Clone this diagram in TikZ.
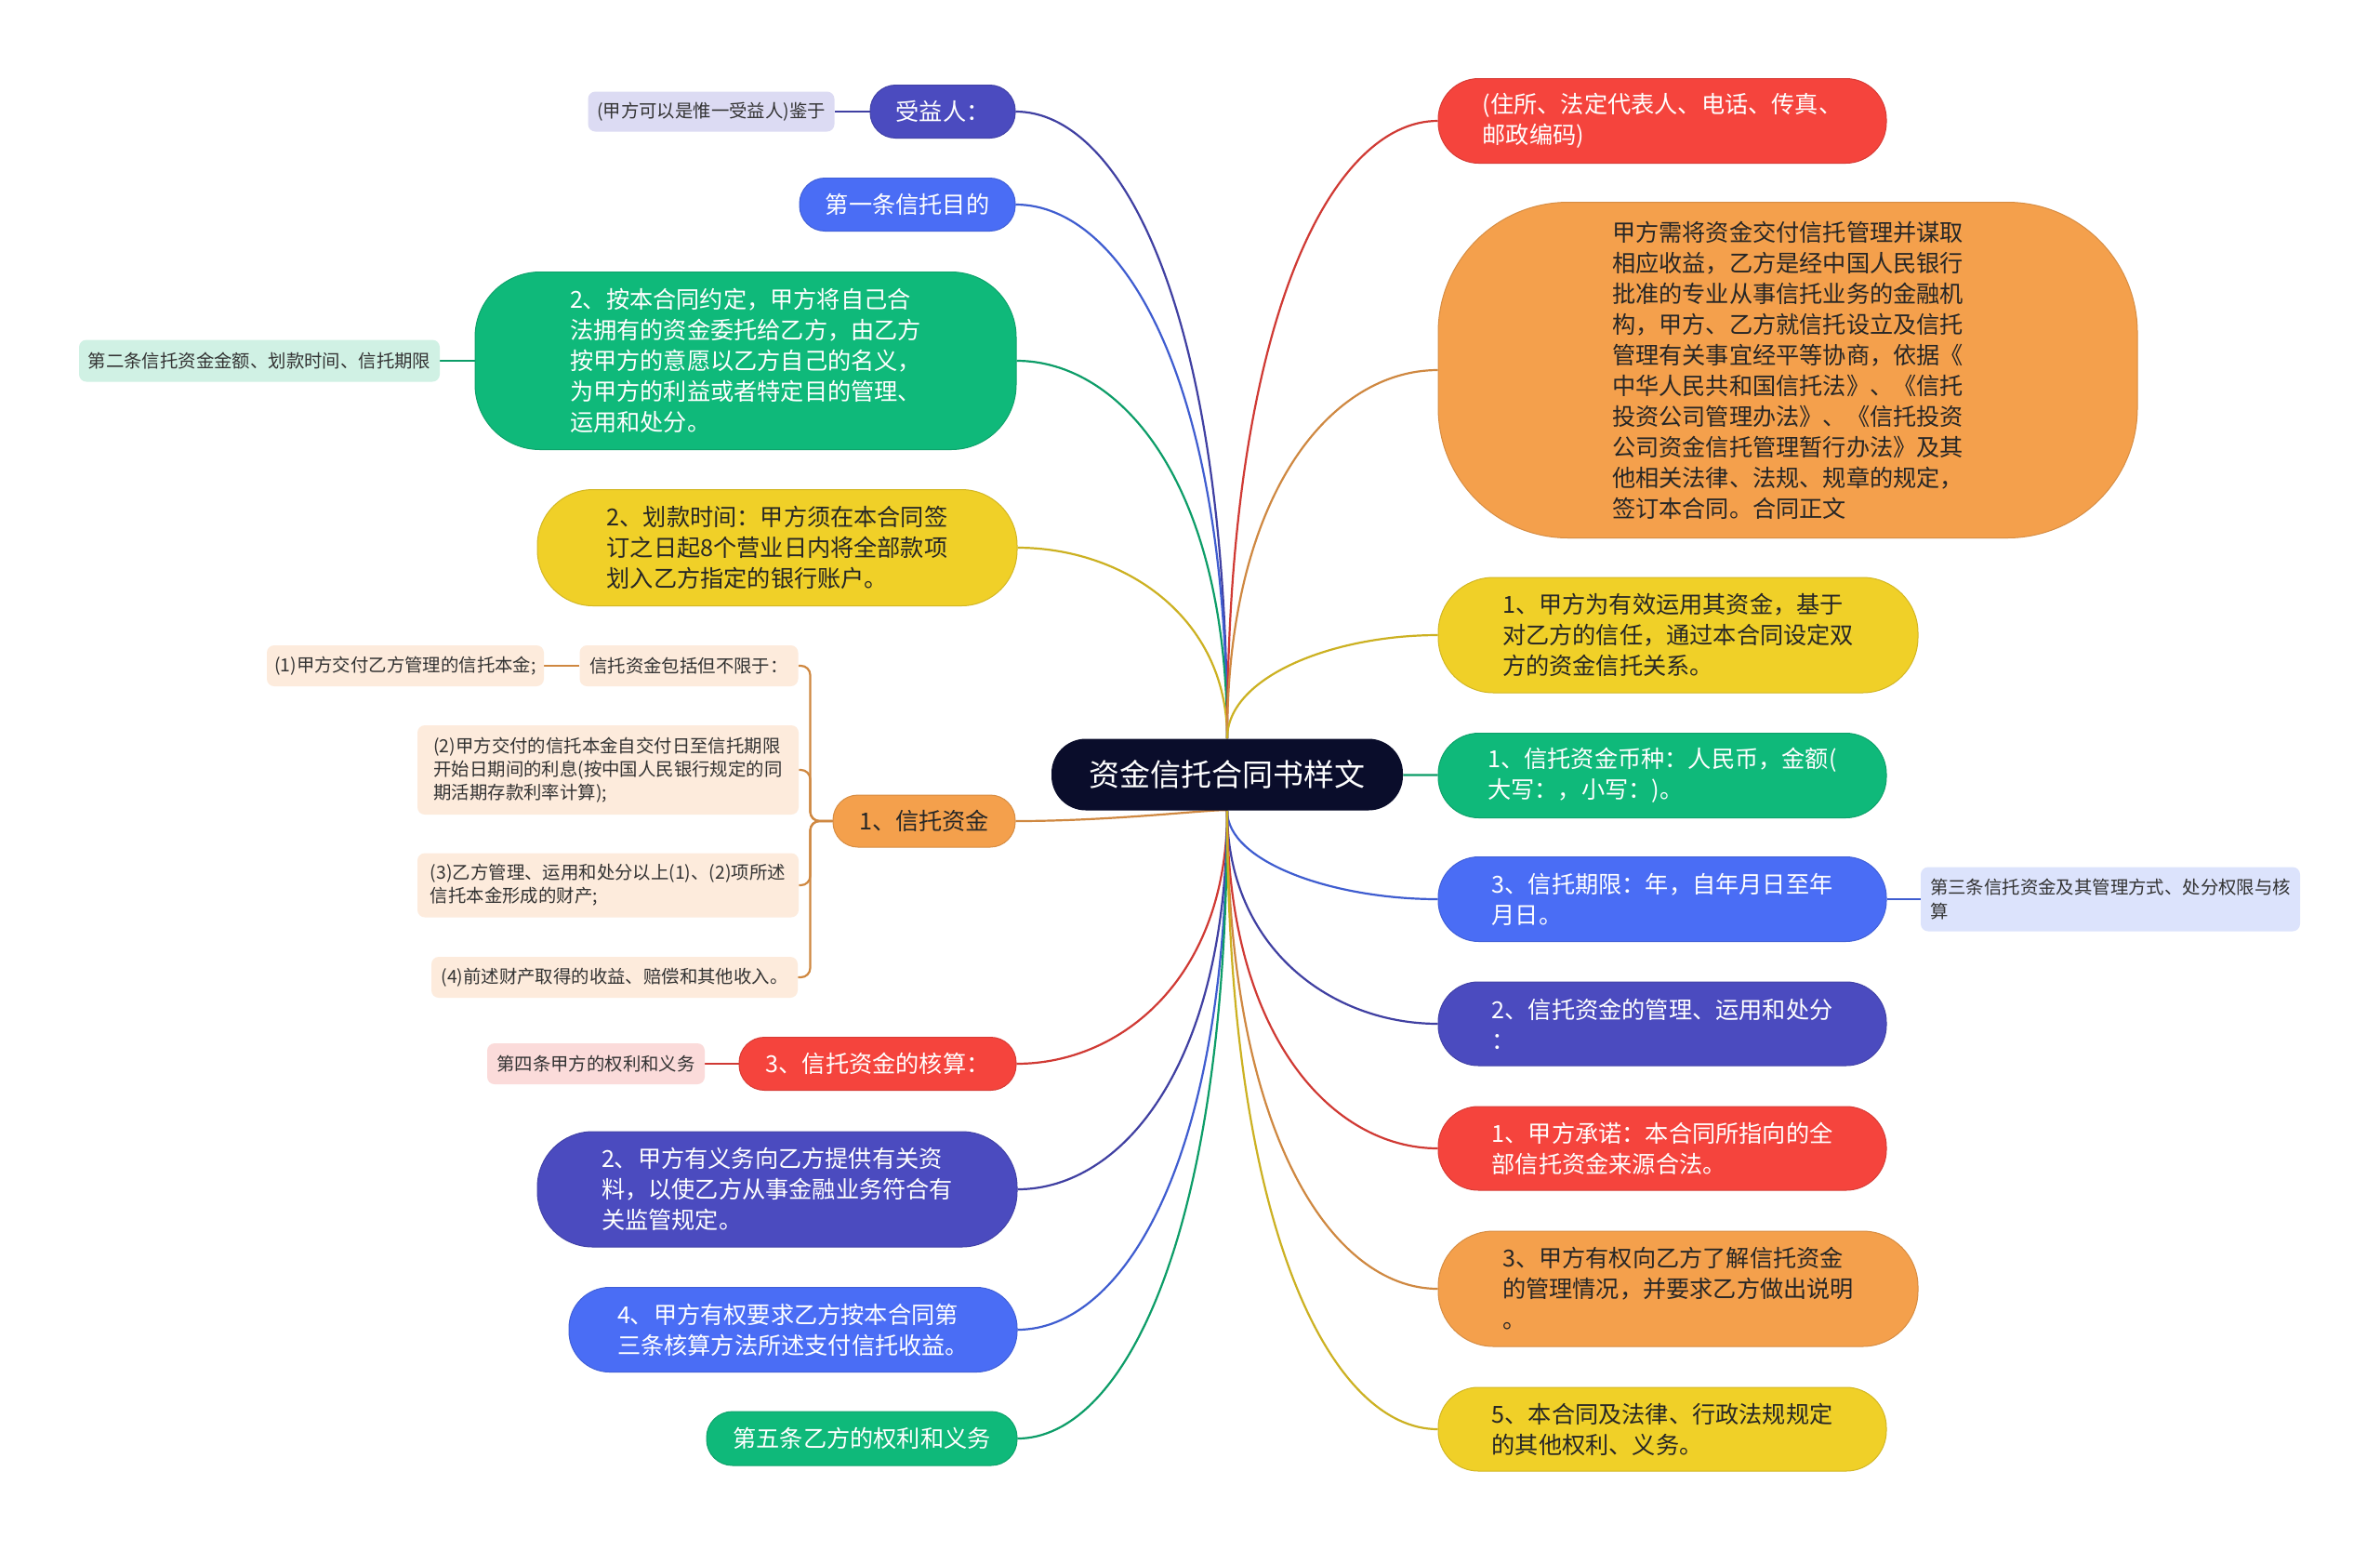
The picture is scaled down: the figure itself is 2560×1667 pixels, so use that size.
\documentclass[tikz,border=0pt]{standalone}
\usepackage{fontspec}
\setmainfont{Noto Sans CJK SC}
\usepackage{tikz}
\usetikzlibrary{calc,backgrounds}

\definecolor{cHub}{RGB}{10,13,43}
\definecolor{cRed}{RGB}{245,68,61}
\definecolor{cOr}{RGB}{244,160,76}
\definecolor{cYel}{RGB}{240,208,40}
\definecolor{cGrn}{RGB}{15,185,122}
\definecolor{cBlu}{RGB}{74,109,245}
\definecolor{cPur}{RGB}{75,75,191}
\definecolor{lPur}{RGB}{220,219,243}
\definecolor{lGrn}{RGB}{208,241,228}
\definecolor{lOr}{RGB}{253,235,220}
\definecolor{lRed}{RGB}{251,219,218}
\definecolor{lBlu}{RGB}{220,227,252}

\newcommand\hubf{\fontsize{16.5pt}{20pt}\selectfont}
\newcommand\bodyf{\fontsize{12.6pt}{16.5pt}\selectfont}
\newcommand\leaff{\fontsize{9.7pt}{12.6pt}\selectfont}

\begin{document}
\begin{tikzpicture}[x=0.5pt,y=-0.5pt,line cap=round,
  wh/.style 2 args={minimum width=#1*0.5pt,minimum height=#2*0.5pt},
  sz/.style 2 args={wh={#1}{#2},rounded corners=#2*0.24pt},
  hub/.style={fill=cHub,text=white,font=\hubf,inner sep=0pt},
  lvl/.style={fill=#1,draw=#1!88!black,line width=0.5pt,text=white,font=\bodyf,align=left,inner sep=0pt},
  lvd/.style={lvl=#1,text=black!85},
  leaf/.style={fill=#1,rounded corners=4pt,font=\leaff,align=left,inner sep=0pt,text=black!80},
  lk/.style={line width=1.1pt,draw=#1!85!black},
  br/.style={lk=#1,
    to path={.. controls ($(\tikztostart)!0.7!(\tikztostart |- \tikztotarget)$)
      and ($(\tikztotarget)!0.5!(\tikztostart |- \tikztotarget)$) .. (\tikztotarget)}}]
\useasboundingbox (0,0) rectangle (2560,1667);

% centre
\node[hub,sz={378}{77}] (hub) at (1320,833) {资金信托合同书样文};

% left side
\node[lvl=cPur,sz={156}{57}] (l1) at (1014,120) {受益人：};
\node[leaf=lPur,wh={265}{43}] (l1a) at (765,120) {(甲方可以是惟一受益人)鉴于};
\node[lvl=cBlu,sz={232}{57}] (l2) at (976,220) {第一条信托目的};
\node[lvl=cGrn,sz={582}{191},rounded corners=35pt] (l3) at (802,388)
  {2、按本合同约定，甲方将自己合\\法拥有的资金委托给乙方，由乙方\\按甲方的意愿以乙方自己的名义，\\为甲方的利益或者特定目的管理、\\运用和处分。};
\node[leaf=lGrn,wh={388}{45}] (l3a) at (279,388) {第二条信托资金金额、划款时间、信托期限};
\node[lvd=cYel,sz={516}{125}] (l4) at (836,589)
  {2、划款时间：甲方须在本合同签\\订之日起8个营业日内将全部款项\\划入乙方指定的银行账户。};
\node[lvd=cOr,sz={196}{56}] (l5) at (994,883) {1、信托资金};
\node[leaf=lOr,wh={235}{44}] (l5a) at (741,716) {信托资金包括但不限于：};
\node[leaf=lOr,wh={298}{44}] (l5a1) at (436,716) {(1)甲方交付乙方管理的信托本金;};
\node[leaf=lOr,wh={410}{96}] (l5b) at (654,828)
  {(2)甲方交付的信托本金自交付日至信托期限\\开始日期间的利息(按中国人民银行规定的同\\期活期存款利率计算);};
\node[leaf=lOr,wh={410}{69}] (l5c) at (654,952)
  {(3)乙方管理、运用和处分以上(1)、(2)项所述\\信托本金形成的财产;};
\node[leaf=lOr,wh={394}{44}] (l5d) at (661,1051) {(4)前述财产取得的收益、赔偿和其他收入。};
\node[lvl=cRed,sz={298}{57}] (l6) at (944,1144) {3、信托资金的核算：};
\node[leaf=lRed,wh={234}{44}] (l6a) at (641,1144) {第四条甲方的权利和义务};
\node[lvl=cPur,sz={516}{124}] (l7) at (836,1279)
  {2、甲方有义务向乙方提供有关资\\料，以使乙方从事金融业务符合有\\关监管规定。};
\node[lvl=cBlu,sz={482}{91}] (l8) at (853,1430)
  {4、甲方有权要求乙方按本合同第\\三条核算方法所述支付信托收益。};
\node[lvl=cGrn,sz={334}{58}] (l9) at (927,1547) {第五条乙方的权利和义务};

% right side
\node[lvl=cRed,sz={482}{91}] (r1) at (1788,130)
  {(住所、法定代表人、电话、传真、\\邮政编码)};
\node[lvd=cOr,sz={752}{361},rounded corners=70pt] (r2) at (1923,398)
  {甲方需将资金交付信托管理并谋取\\相应收益，乙方是经中国人民银行\\批准的专业从事信托业务的金融机\\构，甲方、乙方就信托设立及信托\\管理有关事宜经平等协商，依据《\\中华人民共和国信托法》、《信托\\投资公司管理办法》、《信托投资\\公司资金信托管理暂行办法》及其\\他相关法律、法规、规章的规定，\\签订本合同。合同正文};
\node[lvd=cYel,sz={516}{124}] (r3) at (1805,683)
  {1、甲方为有效运用其资金，基于\\对乙方的信任，通过本合同设定双\\方的资金信托关系。};
\node[lvl=cGrn,sz={482}{91}] (r4) at (1788,834)
  {1、信托资金币种：人民币，金额(\\大写：，小写：)。};
\node[lvl=cBlu,sz={482}{91}] (r5) at (1788,967)
  {3、信托期限：年，自年月日至年\\月日。};
\node[leaf=lBlu,wh={408}{69}] (r5a) at (2270,967)
  {第三条信托资金及其管理方式、处分权限与核\\算};
\node[lvl=cPur,sz={482}{90}] (r6) at (1788,1101)
  {2、信托资金的管理、运用和处分\\：};
\node[lvl=cRed,sz={482}{90}] (r7) at (1788,1235)
  {1、甲方承诺：本合同所指向的全\\部信托资金来源合法。};
\node[lvd=cOr,sz={516}{124}] (r8) at (1805,1386)
  {3、甲方有权向乙方了解信托资金\\的管理情况，并要求乙方做出说明\\。};
\node[lvd=cYel,sz={482}{90}] (r9) at (1788,1537)
  {5、本合同及法律、行政法规规定\\的其他权利、义务。};

% connectors
\begin{scope}[on background layer]
\fill[white] (0,0) rectangle (2560,1667);
\draw[br=cPur] (hub) to (l1.east);
\draw[br=cBlu] (hub) to (l2.east);
\draw[br=cGrn] (hub) to (l3.east);
\draw[br=cYel] (hub) to (l4.east);
\draw[br=cOr] (hub) to (l5.east);
\draw[br=cRed] (hub) to (l6.east);
\draw[br=cPur] (hub) to (l7.east);
\draw[br=cBlu] (hub) to (l8.east);
\draw[br=cGrn] (hub) to (l9.east);
\draw[br=cRed] (hub) to (r1.west);
\draw[br=cOr] (hub) to (r2.west);
\draw[br=cYel] (hub) to (r3.west);
\draw[lk=cGrn] (hub) -- (r4);
\draw[br=cBlu] (hub) to (r5.west);
\draw[br=cPur] (hub) to (r6.west);
\draw[br=cRed] (hub) to (r7.west);
\draw[br=cOr] (hub) to (r8.west);
\draw[br=cYel] (hub) to (r9.west);
% leaves
\draw[lk=cPur] (l1) -- (l1a);
\draw[lk=cGrn] (l3) -- (l3a);
\draw[lk=cRed] (l6) -- (l6a);
\draw[lk=cBlu] (r5) -- (r5a);
\draw[lk=cOr] (l5a) -- (l5a1);
\draw[lk=cOr,rounded corners=5pt] (l5.west) -- ++(-24,0) |- (l5a.east);
\draw[lk=cOr,rounded corners=5pt] (l5.west) -- ++(-24,0) |- (l5b.east);
\draw[lk=cOr,rounded corners=5pt] (l5.west) -- ++(-24,0) |- (l5c.east);
\draw[lk=cOr,rounded corners=5pt] (l5.west) -- ++(-24,0) |- (l5d.east);
\end{scope}
\end{tikzpicture}
\end{document}
